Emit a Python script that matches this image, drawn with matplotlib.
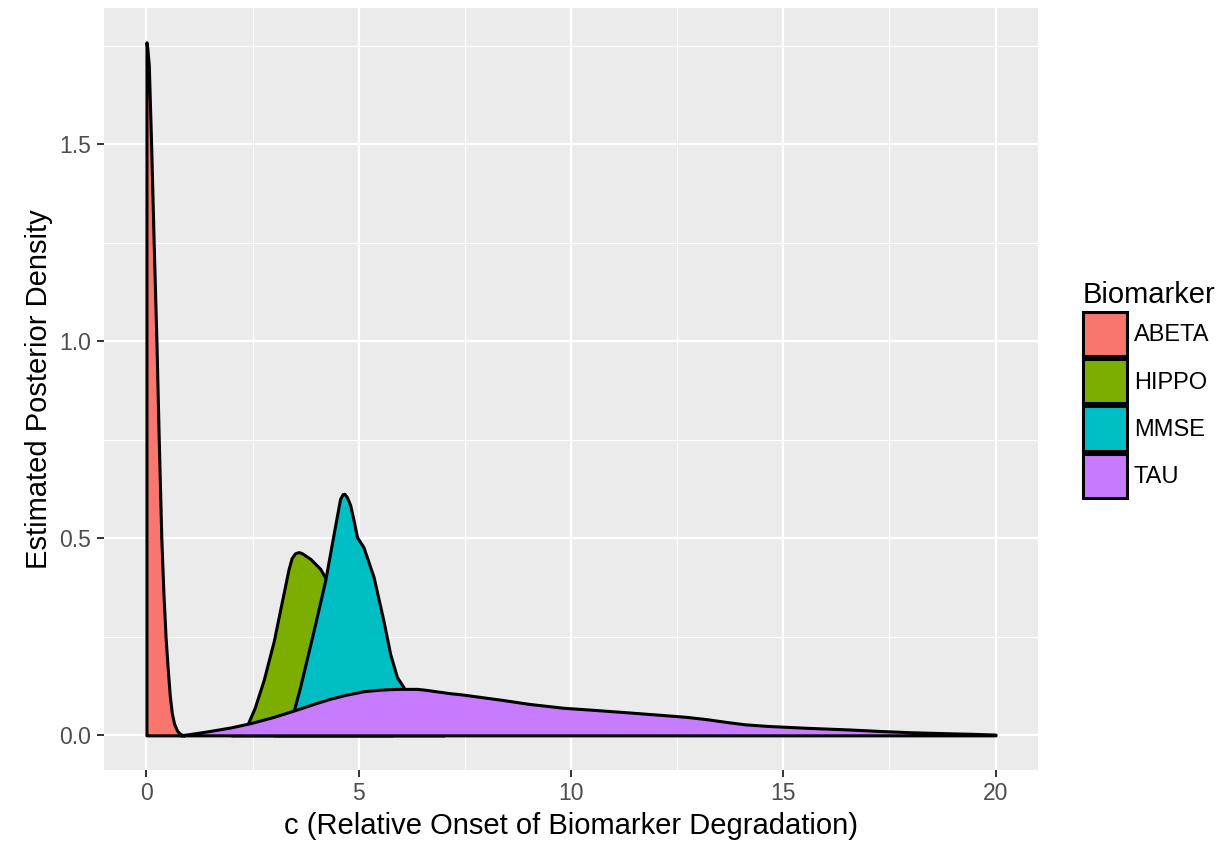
import matplotlib
matplotlib.use("Agg")
import matplotlib.pyplot as plt
from matplotlib.patches import Patch

plt.rcParams['font.family'] = ['Liberation Sans', 'DejaVu Sans']

# Posterior density estimates of c for each biomarker
abeta_x = [0, 0.02, 0.055, 0.11, 0.17, 0.235, 0.29, 0.35, 0.40, 0.45, 0.50,
           0.55, 0.60, 0.65, 0.72, 0.78, 0.85, 0.9]
abeta_y = [1.759, 1.745, 1.70, 1.50, 1.25, 1.00, 0.75, 0.50, 0.36, 0.25, 0.17,
           0.10, 0.055, 0.03, 0.012, 0.005, 0.001, 0.0]

hippo_x = [2.0, 2.2, 2.37, 2.55, 2.76, 3.0, 3.19, 3.35, 3.42, 3.5, 3.58, 3.65,
           3.72, 3.86, 4.09, 4.25, 4.4, 4.6, 4.8, 5.0, 5.2, 5.4, 5.6, 5.8]
hippo_y = [0.0, 0.008, 0.025, 0.07, 0.14, 0.24, 0.34, 0.423, 0.45, 0.462, 0.465, 0.463,
           0.458, 0.448, 0.423, 0.393, 0.34, 0.26, 0.18, 0.11, 0.06, 0.03, 0.01, 0.0]

mmse_x = [3.0, 3.2, 3.35, 3.47, 3.62, 3.94, 4.21, 4.41, 4.56, 4.62, 4.66, 4.72,
          4.80, 4.88, 4.96, 5.11, 5.35, 5.58, 5.74, 5.90, 6.05, 6.2, 6.4, 6.6,
          6.8, 7.0]
mmse_y = [0.0, 0.02, 0.04, 0.063, 0.123, 0.267, 0.393, 0.512, 0.60, 0.612, 0.613, 0.605,
          0.584, 0.545, 0.503, 0.478, 0.402, 0.292, 0.207, 0.148, 0.123, 0.09, 0.05, 0.02,
          0.005, 0.0]

tau_x = [0.8, 1.0, 1.43, 1.98, 2.45, 3.0, 3.47, 4.0, 4.33, 4.7, 5.11, 5.5,
         5.9, 6.37, 6.55, 7.15, 7.42, 8.38, 9.0, 9.82, 10.5, 11.26, 12.0,
         12.71, 13.2, 13.66, 14.1, 14.62, 15.59, 16.55, 17.3, 17.99, 19.0,
         19.43, 20.0]
tau_y = [0.0, 0.003, 0.010, 0.020, 0.031, 0.047, 0.063, 0.082, 0.093, 0.103,
         0.112, 0.116, 0.118, 0.118, 0.116, 0.107, 0.104, 0.090, 0.080, 0.070,
         0.065, 0.059, 0.053, 0.047, 0.041, 0.034, 0.028, 0.024, 0.019, 0.015,
         0.011, 0.008, 0.005, 0.004, 0.002]

names = ["ABETA", "HIPPO", "MMSE", "TAU"]
colors = ["#F8766D", "#7CAE00", "#00BFC4", "#C77CFF"]
series = [(abeta_x, abeta_y), (hippo_x, hippo_y), (mmse_x, mmse_y), (tau_x, tau_y)]

fig = plt.figure(figsize=(12.23, 8.41), dpi=100)
ax = fig.add_axes([104 / 1223, 1 - 770 / 841, (1038 - 104) / 1223, (770 - 8) / 841])
ax.set_facecolor("#EBEBEB")

for i, ((xs, ys), c) in enumerate(zip(series, colors)):
    ax.fill_between(xs, ys, 0, facecolor=c, edgecolor="black",
                    linewidth=2.2, joinstyle="round", zorder=3 + i)

ax.set_xlim(-1, 21)
ax.set_ylim(-0.0879, 1.8459)
ax.set_xticks([0, 5, 10, 15, 20])
ax.set_yticks([0.0, 0.5, 1.0, 1.5])
ax.set_yticklabels(["0.0", "0.5", "1.0", "1.5"])
ax.set_xticks([2.5, 7.5, 12.5, 17.5], minor=True)
ax.set_yticks([0.25, 0.75, 1.25, 1.75], minor=True)
ax.grid(True, which="major", color="white", linewidth=1.6, zorder=1)
ax.grid(True, which="minor", color="white", linewidth=0.8, zorder=1)
ax.set_axisbelow(True)
for s in ax.spines.values():
    s.set_visible(False)
ax.tick_params(which="major", length=5, width=1.4, color="#333333",
               labelsize=16.5, labelcolor="#4D4D4D", pad=4)
ax.tick_params(which="minor", length=0)

ax.set_xlabel("c (Relative Onset of Biomarker Degradation)", fontsize=21, labelpad=5)
ax.set_ylabel("Estimated Posterior Density", fontsize=21, labelpad=5)

handles = [Patch(facecolor=c, edgecolor="black", linewidth=2.2) for c in colors]
leg = fig.legend(handles, names, title="Biomarker", loc="center left",
                 bbox_to_anchor=(1083 / 1223, 0.537), frameon=False,
                 fontsize=17, title_fontsize=21, handlelength=1.85,
                 handleheight=2.5, labelspacing=0.13, handletextpad=0.3,
                 borderpad=0, borderaxespad=0, alignment="left")

fig.savefig("out.png", dpi=100)
